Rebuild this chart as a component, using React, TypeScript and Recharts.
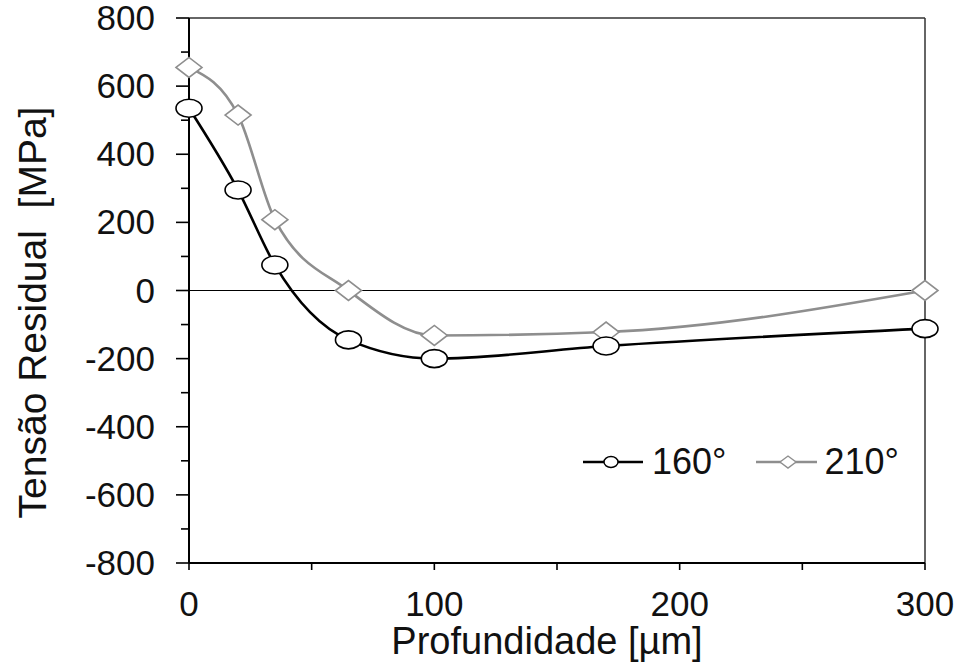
import React from 'react';
import { LineChart, Line, XAxis, YAxis, ReferenceLine, Legend, Label } from 'recharts';

// Depth values (µm) and residual stress (MPa) for both temperatures
const depth = [0, 20, 35, 65, 100, 170, 300];
const stress160 = [535, 295, 75, -145, -200, -163, -112];
const stress210 = [655, 515, 208, 0, -132, -122, 0];

// Tick positions
const xTicks = [0, 50, 100, 150, 200, 250, 300];
const yTicks = [-800, -700, -600, -500, -400, -300, -200, -100, 0, 100, 200, 300, 400, 500, 600, 700, 800];

const seriesNames = ['160°', '210°'];

const data = depth.map((d, i) => ({ depth: d, s160: stress160[i], s210: stress210[i] }));

const FONT = '"Liberation Sans", Arial, sans-serif';
const GRAY = '#8e8e8e';

// Ellipse marker for 160°
const EllipseDot = (props: any) => {
  const { cx, cy, index } = props;
  if (cx == null || cy == null) return null;
  return <ellipse key={`e-${index}`} cx={cx} cy={cy} rx={13} ry={9} fill="#fff" stroke="#000" strokeWidth={1.6} />;
};

// Diamond marker for 210°
const DiamondDot = (props: any) => {
  const { cx, cy, index } = props;
  if (cx == null || cy == null) return null;
  const w = 13;
  const h = 10;
  return (
    <polygon
      key={`d-${index}`}
      points={`${cx - w},${cy} ${cx},${cy - h} ${cx + w},${cy} ${cx},${cy + h}`}
      fill="#fff"
      stroke={GRAY}
      strokeWidth={1.6}
    />
  );
};

const YTick = (props: any) => {
  const { x, y, payload } = props;
  const v = payload.value;
  const major = v % 200 === 0;
  return (
    <g>
      <line x1={x - (major ? 13 : 8)} x2={x} y1={y} y2={y} stroke="#000" strokeWidth={1.6} />
      {major && (
        <text x={x - 34} y={y + 12} textAnchor="end" fontSize={35} fontFamily={FONT} fill="#111">
          {v}
        </text>
      )}
    </g>
  );
};

const XTick = (props: any) => {
  const { x, y, payload } = props;
  const v = payload.value;
  const major = v % 100 === 0;
  return (
    <g>
      <line x1={x} x2={x} y1={y} y2={y + 7} stroke="#000" strokeWidth={1.6} />
      {major && (
        <text x={x} y={y + 53} textAnchor="middle" fontSize={35} fontFamily={FONT} fill="#111">
          {v}
        </text>
      )}
    </g>
  );
};

const renderLegend = () => (
  <div style={{ display: 'flex', alignItems: 'center', fontFamily: FONT, fontSize: 36, lineHeight: '36px', color: '#111' }}>
    <svg width={62} height={20}>
      <line x1={0} x2={60} y1={10} y2={10} stroke="#000" strokeWidth={2.5} />
      <ellipse cx={28} cy={10} rx={7} ry={5.5} fill="#fff" stroke="#000" strokeWidth={1.4} />
    </svg>
    <span style={{ marginLeft: 7 }}>{seriesNames[0]}</span>
    <svg width={62} height={20} style={{ marginLeft: 30 }}>
      <line x1={0} x2={61} y1={10} y2={10} stroke={GRAY} strokeWidth={2.5} />
      <polygon points="24,10 32,4 40,10 32,16" fill="#fff" stroke={GRAY} strokeWidth={1.4} />
    </svg>
    <span style={{ marginLeft: 6 }}>{seriesNames[1]}</span>
  </div>
);

const YLabel = (props: any) => {
  const { viewBox } = props;
  const cx = 32;
  const cy = viewBox.y + viewBox.height / 2 + 22;
  return (
    <text
      x={cx}
      y={cy}
      transform={`rotate(-90, ${cx}, ${cy})`}
      textAnchor="middle"
      dy="0.36em"
      fontSize={39}
      fontFamily={FONT}
      fill="#111"
    >
      {'Tensão Residual\u00a0 [MPa]'}
    </text>
  );
};

const XLabel = (props: any) => {
  const { viewBox } = props;
  return (
    <text x={viewBox.x + viewBox.width / 2 - 10} y={654} textAnchor="middle" fontSize={38} fontFamily={FONT} fill="#111">
      Profundidade [µm]
    </text>
  );
};

export default function App() {
  return (
    <div style={{ position: 'absolute', left: 0, top: 0, background: '#fff' }}>
      <LineChart width={961} height={667} data={data} margin={{ top: 18, right: 36, bottom: 0, left: 0 }}>
        <XAxis
          dataKey="depth"
          type="number"
          domain={[0, 300]}
          ticks={xTicks}
          tick={<XTick />}
          tickLine={false}
          tickSize={0}
          tickMargin={0}
          height={104}
          axisLine={{ stroke: '#000', strokeWidth: 2 }}
          interval={0}
        >
          <Label content={<XLabel />} />
        </XAxis>
        <YAxis
          type="number"
          domain={[-800, 800]}
          ticks={yTicks}
          tick={<YTick />}
          tickLine={false}
          tickSize={0}
          tickMargin={0}
          width={189}
          axisLine={{ stroke: '#000', strokeWidth: 2 }}
          interval={0}
        >
          <Label content={<YLabel />} />
        </YAxis>
        <ReferenceLine y={800} stroke="#333" strokeWidth={1.5} />
        <ReferenceLine x={300} stroke="#333" strokeWidth={1.5} />
        <ReferenceLine y={0} stroke="#000" strokeWidth={1.2} />
        <Line
          type="monotone"
          dataKey="s210"
          name={seriesNames[1]}
          stroke={GRAY}
          strokeWidth={2.6}
          dot={<DiamondDot />}
          activeDot={false}
          isAnimationActive={false}
        />
        <Line
          type="monotone"
          dataKey="s160"
          name={seriesNames[0]}
          stroke="#000"
          strokeWidth={2.6}
          dot={<EllipseDot />}
          activeDot={false}
          isAnimationActive={false}
        />
        <Legend
          content={renderLegend}
          verticalAlign="middle"
          layout="horizontal"
          wrapperStyle={{ position: 'absolute', left: 583, top: 444, width: 340 }}
        />
      </LineChart>
    </div>
  );
}
